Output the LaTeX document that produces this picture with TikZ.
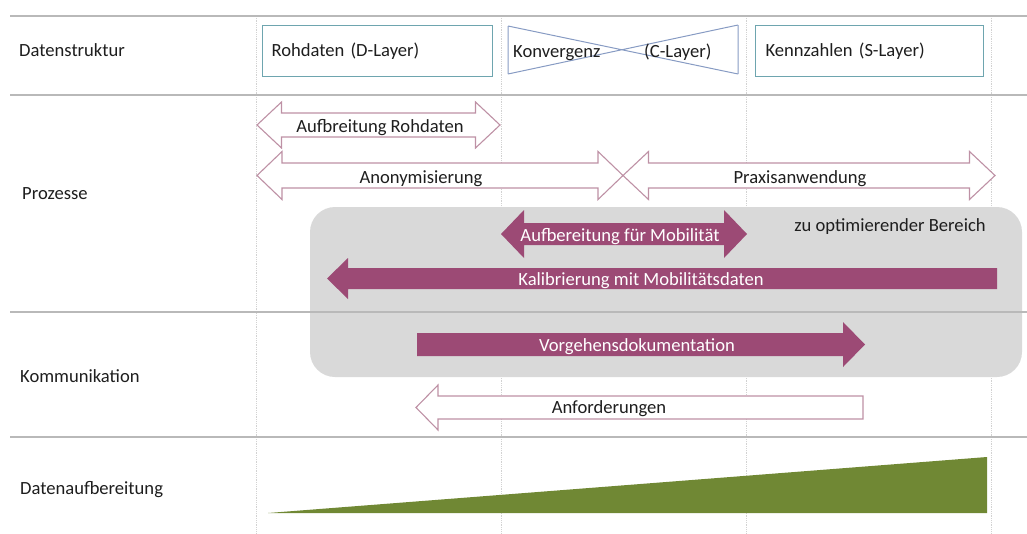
\documentclass[tikz,border=0pt]{standalone}
\usepackage{fontspec}
\setmainfont{Carlito}
\definecolor{sepgray}{RGB}{185,185,185}
\definecolor{gridgray}{RGB}{210,210,210}
\definecolor{arrowpink}{RGB}{190,145,165}
\definecolor{plum}{RGB}{156,74,117}
\definecolor{boxteal}{RGB}{110,165,175}
\definecolor{tieblue}{RGB}{135,155,195}
\definecolor{areagray}{RGB}{217,217,217}
\definecolor{olive}{RGB}{112,136,52}
\definecolor{txtgray}{RGB}{30,30,30}
\newcommand\DblArrow[7]{%
  \path[#1] (#2,#4) -- (#2+#7,#4-#6) -- (#2+#7,#4-#5) -- (#3-#7,#4-#5) -- (#3-#7,#4-#6) -- (#3,#4) -- (#3-#7,#4+#6) -- (#3-#7,#4+#5) -- (#2+#7,#4+#5) -- (#2+#7,#4+#6) -- cycle;}
\newcommand\LArrow[7]{%
  \path[#1] (#2,#4) -- (#2+#7,#4-#6) -- (#2+#7,#4-#5) -- (#3,#4-#5) -- (#3,#4+#5) -- (#2+#7,#4+#5) -- (#2+#7,#4+#6) -- cycle;}
\newcommand\RArrow[7]{%
  \path[#1] (#2,#4-#5) -- (#3-#7,#4-#5) -- (#3-#7,#4-#6) -- (#3,#4) -- (#3-#7,#4+#6) -- (#3-#7,#4+#5) -- (#2,#4+#5) -- cycle;}
\tikzset{
  sepline/.style={draw=sepgray, line width=1.5pt},
  vgrid/.style={draw=gridgray, line width=0.8pt, densely dotted},
  hollow/.style={draw=arrowpink, line width=1.1pt, fill=white, line join=miter},
  solidarrow/.style={fill=plum},
  txt/.style={font=\fontsize{18.6}{22}\selectfont, inner sep=0pt, text=txtgray},
  wtxt/.style={txt, text=white},
  layerbox/.style={draw=boxteal, line width=1.1pt, minimum height=51pt, align=left, inner ysep=0pt, anchor=north west},
}
\begin{document}
\begin{tikzpicture}[x=1pt,y=-1pt]
\useasboundingbox (0,0) rectangle (1027,533);
% grid
\foreach \x in {256,501,746,991} \draw[vgrid] (\x,16) -- (\x,533);
% optimisation area
\fill[areagray, rounded corners=25pt] (310,207) rectangle (1022,377);
% separators
\foreach \y in {16,95,312,437} \draw[sepline] (10,\y) -- (1027,\y);
% row labels
\node[txt, anchor=base west] (ds) at (19,56) {Datenstruktur};
\node[txt, anchor=base west] (pr) at (22,199) {Prozesse};
\node[txt, anchor=base west] (ko) at (20,382) {Kommunikation};
\node[txt, anchor=base west] (da) at (20,494) {Datenaufbereitung};
% layer boxes
\node[layerbox, txt, text width=212pt, inner xsep=9pt, minimum height=51pt] (dl) at (262,25) {Rohdaten (D-Layer)};
\node[layerbox, txt, text width=208pt, inner xsep=10pt, minimum height=51pt] (sl) at (755,25) {Kennzahlen (S-Layer)};
\draw[tieblue, line width=1pt] (508,26) -- (508,74) (738,25) -- (738,74) (508,26) -- (738,74) (508,74) -- (738,25);
\node[txt, anchor=base west] (kv) at (513,57) {Konvergenz};
\node[txt, anchor=base west] (cl) at (644,57) {(C-Layer)};
% process arrows (hollow)
\DblArrow{hollow}{257}{500}{125}{12}{23}{24.5}
\node[txt, anchor=base] (ar) at (380,132) {Aufbreitung Rohdaten};
\DblArrow{hollow}{257}{623}{175.5}{12.5}{24}{25}
\node[txt, anchor=base] (an) at (421,183) {Anonymisierung};
\DblArrow{hollow}{623}{995}{175.5}{12.5}{24}{25.5}
\node[txt, anchor=base] (pa) at (800,183) {Praxisanwendung};
% solid arrows
\node[txt, anchor=base] (zo) at (890,231) {zu optimierender Bereich};
\DblArrow{solidarrow}{501}{747}{234}{11}{24}{23}
\node[wtxt, anchor=base] (am) at (620,241) {Aufbereitung für Mobilität};
\LArrow{solidarrow}{327}{997}{278.5}{10.5}{20.5}{21}
\node[wtxt, anchor=base] (km) at (641,285) {Kalibrierung mit Mobilitätsdaten};
\RArrow{solidarrow}{417}{865}{344.5}{11.5}{22.5}{22}
\node[wtxt, anchor=base] (vd) at (637,351) {Vorgehensdokumentation};
% communication
\LArrow{hollow}{416}{863}{407.5}{11.5}{22.5}{22}
\node[txt, anchor=base] (af) at (609,413) {Anforderungen};
% data preparation wedge
\fill[olive] (268,513) -- (987,457) -- (987,513) -- cycle;
\end{tikzpicture}
\end{document}
